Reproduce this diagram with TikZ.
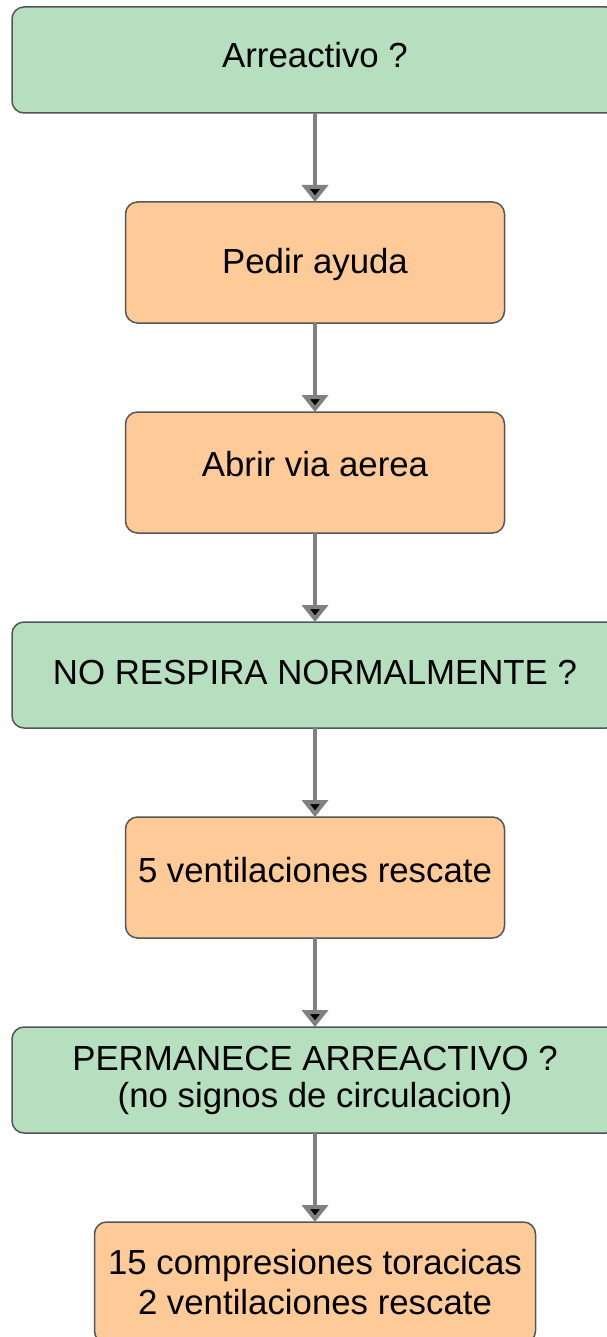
\documentclass[tikz,border=0pt]{standalone}
\usepackage{fontspec}
\setmainfont{Liberation Sans}
\usetikzlibrary{arrows.meta,positioning}
\definecolor{verdeclaro}{HTML}{B6DFC0}
\definecolor{naranjaclaro}{HTML}{FECB98}
\definecolor{bordegris}{HTML}{555555}
\definecolor{flechagris}{HTML}{808080}
\tikzset{
    pregunta/.style = {rectangle,
                    rounded corners=6pt,
                    fill=verdeclaro,
                    draw=bordegris,
                    text=black,
                    line width=0.75pt,
                    outer sep=0pt,
                    align=center,
                    font=\fontsize{17.4}{18.5}\selectfont,
                    minimum width=303pt,
                    minimum height=53pt},
    accion/.style = {rectangle,
                    rounded corners=6pt,
                    fill=naranjaclaro,
                    draw=bordegris,
                    text=black,
                    line width=0.75pt,
                    outer sep=0pt,
                    align=center,
                    font=\fontsize{17.4}{20}\selectfont,
                    minimum width=189.5pt,
                    minimum height=60.5pt},
    subir/.style =  {text height=12.5pt,
                    text depth=#1},
    flecha/.style = {draw=flechagris,
                    line width=2pt,
                    -{Triangle[width=13pt,length=8.5pt]}},
    node distance=44.5pt}

\begin{document}
\begin{tikzpicture}
    \useasboundingbox (0,0) rectangle (303pt,-668.5pt);
    \node[pregunta,subir=4.5pt] (arreactivo) at (157.5pt,-30pt) {Arreactivo ?};
    \node[accion,subir=2pt] (ayuda)      [below=of arreactivo] {Pedir ayuda};
    \node[accion,subir=8.5pt] (via)      [below=of ayuda]      {Abrir via aerea};
    \node[pregunta,subir=3.4pt] (respira) [below=of via]       {NO RESPIRA NORMALMENTE ?};
    \node[accion,subir=8pt] (cinco)      [below=of respira]    {5 ventilaciones rescate};
    \node[pregunta] (permanece)  [below=of cinco]      {PERMANECE ARREACTIVO ?\\(no signos de circulacion)};
    \node[accion, minimum width=220.5pt] (rcp) [below=of permanece]
        {15 compresiones toracicas\\2 ventilaciones rescate};
    \path [flecha] (arreactivo) edge (ayuda)
                   (ayuda)      edge (via)
                   (via)        edge (respira)
                   (respira)    edge (cinco)
                   (cinco)      edge (permanece)
                   (permanece)  edge (rcp);
\end{tikzpicture}
\end{document}
